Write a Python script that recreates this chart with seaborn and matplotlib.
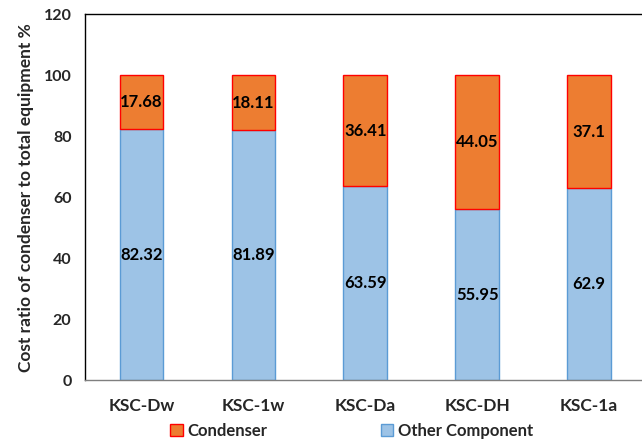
import matplotlib
matplotlib.use("Agg")
import matplotlib.pyplot as plt
from matplotlib.patches import Patch
import seaborn as sns
import pandas as pd

# Cost shares per configuration (percent of total equipment cost)
configs = ["KSC-Dw", "KSC-1w", "KSC-Da", "KSC-DH", "KSC-1a"]
other_component = [82.32, 81.89, 63.59, 55.95, 62.9]
condenser = [17.68, 18.11, 36.41, 44.05, 37.1]
yticks = [0, 20, 40, 60, 80, 100, 120]

sns.set_theme(style="white")
plt.rcParams["font.family"] = ["Lato", "DejaVu Sans"]
plt.rcParams["font.weight"] = "bold"

df = pd.DataFrame({"config": configs, "other": other_component, "cond": condenser})

fig, ax = plt.subplots(figsize=(6.42, 4.43), dpi=100)
fig.subplots_adjust(left=0.133, right=1.005, top=0.968, bottom=0.142)

blue = "#9DC3E6"
blue_edge = "#5B9BD5"
orange = "#ED7D31"
red = "#FF0000"

# lower segment
sns.barplot(data=df, x="config", y="other", color=blue, saturation=1,
            width=0.39, edgecolor=blue_edge, linewidth=1.0, ax=ax, zorder=2)
n_other = len(ax.patches)
# upper segment, stacked on top of the lower one
sns.barplot(data=df, x="config", y="cond", color=orange, saturation=1,
            width=0.39, edgecolor=red, linewidth=1.0, ax=ax, zorder=3)
cond_patches = ax.patches[n_other:]
for p, base in zip(cond_patches, other_component):
    p.set_y(base)

ax.bar_label(ax.containers[0], labels=[f"{v:g}" for v in other_component],
             label_type="center", fontsize=12, fontweight="bold", color="black")
for p, v in zip(cond_patches, condenser):
    ax.text(p.get_x() + p.get_width() / 2, p.get_y() + p.get_height() / 2,
            f"{v:g}", ha="center", va="center", fontsize=12,
            fontweight="bold", color="black", zorder=4)

ax.set_xlim(-0.5, 4.5)
ax.set_ylim(0, 120)
ax.set_yticks(yticks)
ax.set_xlabel("")
ax.set_ylabel("Cost ratio of condenser to total equipment %", fontsize=12.5,
              fontweight="bold", labelpad=7)
ax.tick_params(axis="x", labelsize=12.5, pad=13, length=0)
ax.tick_params(axis="y", labelsize=11.5, pad=10, length=0)
for lab in ax.get_xticklabels() + ax.get_yticklabels():
    lab.set_fontweight("bold")

for side in ["top", "left"]:
    ax.spines[side].set_color("black")
    ax.spines[side].set_linewidth(1.0)
ax.spines["right"].set_visible(False)
ax.spines["bottom"].set_color("#7F7F7F")
ax.spines["bottom"].set_linewidth(1.0)

handles = [Patch(facecolor=orange, edgecolor=red, label="Condenser"),
           Patch(facecolor=blue, edgecolor=blue_edge, label="Other Component")]
fig.legend(handles=handles, loc="lower center", bbox_to_anchor=(0.548, -0.025),
           ncol=2, frameon=False, columnspacing=6.8,
           handlelength=0.75, handleheight=0.75, handletextpad=0.3,
           prop={"weight": "bold", "size": 12})

fig.savefig("out.png", dpi=100)
